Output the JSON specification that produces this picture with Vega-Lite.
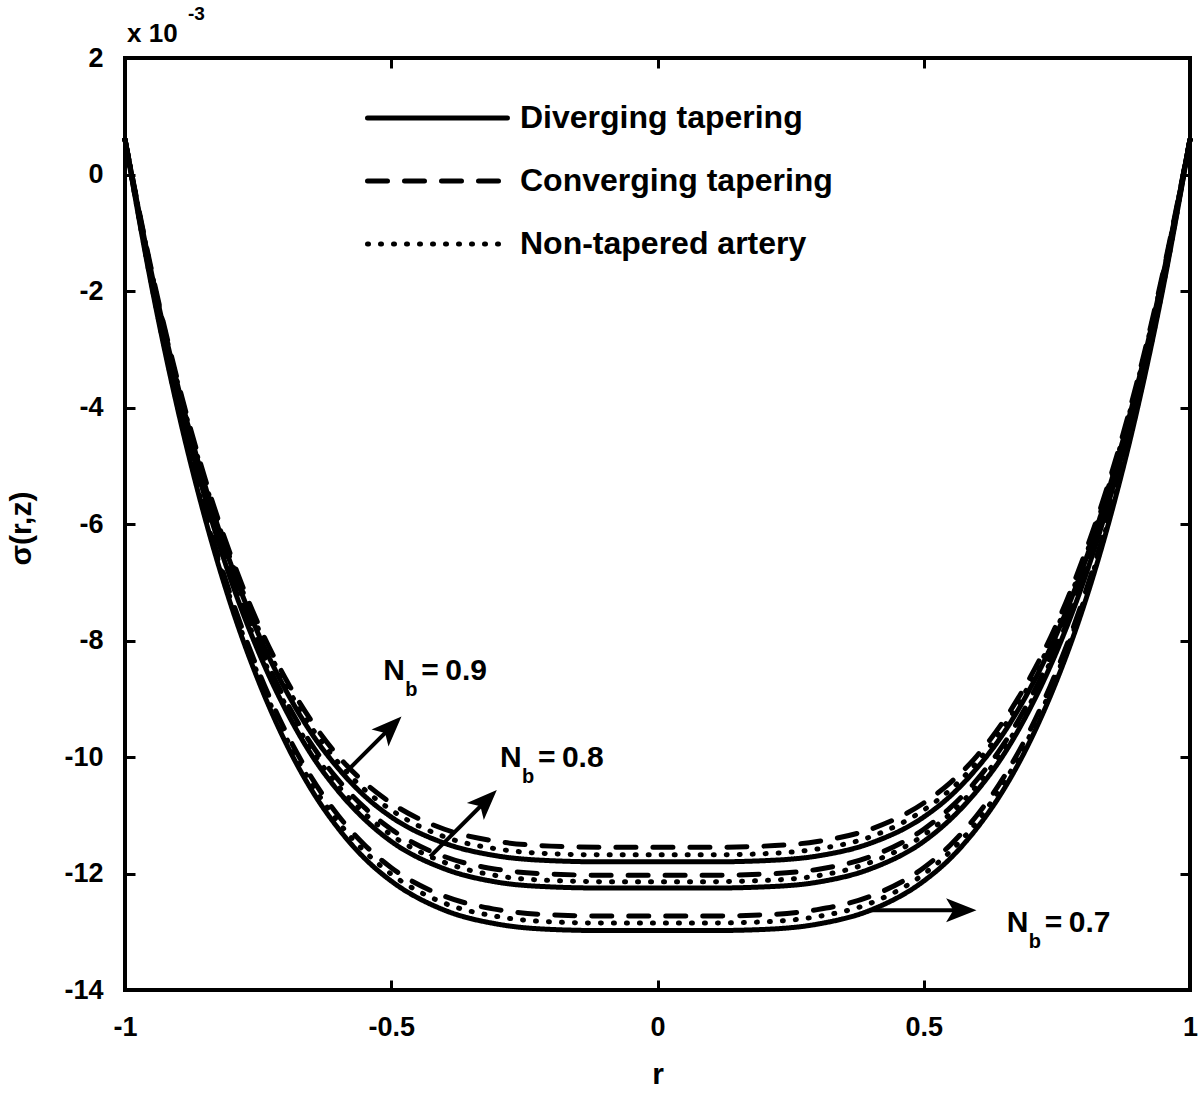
{
  "$schema": "https://vega.github.io/schema/vega-lite/v6.json",
  "autosize": {"type": "none"},
  "padding": {"left": 125, "top": 58, "right": 10, "bottom": 103},
  "width": 1065,
  "height": 932,
  "config": {
    "view": {"stroke": "black", "strokeWidth": 4},
    "font": "Liberation Sans",
    "axis": {
      "grid": false,
      "domain": false,
      "offset": -10,
      "ticks": true,
      "tickColor": "black",
      "tickWidth": 3,
      "tickSize": 10,
      "labelFont": "Liberation Sans",
      "labelFontWeight": "bold",
      "labelFontSize": 27,
      "labelColor": "black",
      "labelFlush": false,
      "labelBound": false,
      "labelOverlap": false,
      "titleFont": "Liberation Sans",
      "titleFontWeight": "bold",
      "titleFontSize": 30,
      "titleColor": "black"
    }
  },
  "layer": [
    {
      "data": {
        "values": [
          {"r": -1, "nb": "0.9", "D": 0.6, "C": 0.6, "N": 0.6},
          {"r": -1, "nb": "0.8", "D": 0.6, "C": 0.6, "N": 0.6},
          {"r": -1, "nb": "0.7", "D": 0.6, "C": 0.6, "N": 0.6},
          {"r": -0.95, "nb": "0.9", "D": -1.70, "C": -1.65, "N": -1.68},
          {"r": -0.95, "nb": "0.8", "D": -1.78, "C": -1.74, "N": -1.76},
          {"r": -0.95, "nb": "0.7", "D": -1.92, "C": -1.87, "N": -1.90},
          {"r": -0.9, "nb": "0.9", "D": -3.66, "C": -3.58, "N": -3.62},
          {"r": -0.9, "nb": "0.8", "D": -3.82, "C": -3.74, "N": -3.78},
          {"r": -0.9, "nb": "0.7", "D": -4.07, "C": -3.98, "N": -4.03},
          {"r": -0.85, "nb": "0.9", "D": -5.33, "C": -5.21, "N": -5.27},
          {"r": -0.85, "nb": "0.8", "D": -5.54, "C": -5.44, "N": -5.49},
          {"r": -0.85, "nb": "0.7", "D": -5.89, "C": -5.77, "N": -5.83},
          {"r": -0.8, "nb": "0.9", "D": -6.72, "C": -6.57, "N": -6.65},
          {"r": -0.8, "nb": "0.8", "D": -6.99, "C": -6.86, "N": -6.92},
          {"r": -0.8, "nb": "0.7", "D": -7.42, "C": -7.27, "N": -7.34},
          {"r": -0.75, "nb": "0.9", "D": -7.88, "C": -7.71, "N": -7.79},
          {"r": -0.75, "nb": "0.8", "D": -8.18, "C": -8.03, "N": -8.11},
          {"r": -0.75, "nb": "0.7", "D": -8.68, "C": -8.51, "N": -8.59},
          {"r": -0.7, "nb": "0.9", "D": -8.82, "C": -8.63, "N": -8.73},
          {"r": -0.7, "nb": "0.8", "D": -9.16, "C": -9.00, "N": -9.08},
          {"r": -0.7, "nb": "0.7", "D": -9.72, "C": -9.53, "N": -9.62},
          {"r": -0.65, "nb": "0.9", "D": -9.59, "C": -9.38, "N": -9.49},
          {"r": -0.65, "nb": "0.8", "D": -9.96, "C": -9.78, "N": -9.87},
          {"r": -0.65, "nb": "0.7", "D": -10.56, "C": -10.35, "N": -10.45},
          {"r": -0.6, "nb": "0.9", "D": -10.19, "C": -9.98, "N": -10.09},
          {"r": -0.6, "nb": "0.8", "D": -10.58, "C": -10.39, "N": -10.49},
          {"r": -0.6, "nb": "0.7", "D": -11.22, "C": -11.00, "N": -11.11},
          {"r": -0.55, "nb": "0.9", "D": -10.67, "C": -10.44, "N": -10.56},
          {"r": -0.55, "nb": "0.8", "D": -11.07, "C": -10.87, "N": -10.97},
          {"r": -0.55, "nb": "0.7", "D": -11.74, "C": -11.51, "N": -11.62},
          {"r": -0.5, "nb": "0.9", "D": -11.03, "C": -10.79, "N": -10.91},
          {"r": -0.5, "nb": "0.8", "D": -11.45, "C": -11.24, "N": -11.34},
          {"r": -0.5, "nb": "0.7", "D": -12.13, "C": -11.90, "N": -12.01},
          {"r": -0.4, "nb": "0.9", "D": -11.48, "C": -11.24, "N": -11.37},
          {"r": -0.4, "nb": "0.8", "D": -11.92, "C": -11.71, "N": -11.81},
          {"r": -0.4, "nb": "0.7", "D": -12.63, "C": -12.39, "N": -12.51},
          {"r": -0.3, "nb": "0.9", "D": -11.70, "C": -11.45, "N": -11.58},
          {"r": -0.3, "nb": "0.8", "D": -12.15, "C": -11.93, "N": -12.04},
          {"r": -0.3, "nb": "0.7", "D": -12.87, "C": -12.62, "N": -12.74},
          {"r": -0.2, "nb": "0.9", "D": -11.78, "C": -11.53, "N": -11.66},
          {"r": -0.2, "nb": "0.8", "D": -12.23, "C": -12.01, "N": -12.12},
          {"r": -0.2, "nb": "0.7", "D": -12.96, "C": -12.71, "N": -12.83},
          {"r": -0.1, "nb": "0.9", "D": -11.80, "C": -11.55, "N": -11.68},
          {"r": -0.1, "nb": "0.8", "D": -12.25, "C": -12.03, "N": -12.14},
          {"r": -0.1, "nb": "0.7", "D": -12.98, "C": -12.73, "N": -12.85},
          {"r": 0, "nb": "0.9", "D": -11.80, "C": -11.55, "N": -11.68},
          {"r": 0, "nb": "0.8", "D": -12.25, "C": -12.03, "N": -12.14},
          {"r": 0, "nb": "0.7", "D": -12.98, "C": -12.73, "N": -12.85},
          {"r": 0.1, "nb": "0.9", "D": -11.80, "C": -11.55, "N": -11.68},
          {"r": 0.1, "nb": "0.8", "D": -12.25, "C": -12.03, "N": -12.14},
          {"r": 0.1, "nb": "0.7", "D": -12.98, "C": -12.73, "N": -12.85},
          {"r": 0.2, "nb": "0.9", "D": -11.78, "C": -11.53, "N": -11.66},
          {"r": 0.2, "nb": "0.8", "D": -12.23, "C": -12.01, "N": -12.12},
          {"r": 0.2, "nb": "0.7", "D": -12.96, "C": -12.71, "N": -12.83},
          {"r": 0.3, "nb": "0.9", "D": -11.70, "C": -11.45, "N": -11.58},
          {"r": 0.3, "nb": "0.8", "D": -12.15, "C": -11.93, "N": -12.04},
          {"r": 0.3, "nb": "0.7", "D": -12.87, "C": -12.62, "N": -12.74},
          {"r": 0.4, "nb": "0.9", "D": -11.48, "C": -11.24, "N": -11.37},
          {"r": 0.4, "nb": "0.8", "D": -11.92, "C": -11.71, "N": -11.81},
          {"r": 0.4, "nb": "0.7", "D": -12.63, "C": -12.39, "N": -12.51},
          {"r": 0.5, "nb": "0.9", "D": -11.03, "C": -10.79, "N": -10.91},
          {"r": 0.5, "nb": "0.8", "D": -11.45, "C": -11.24, "N": -11.34},
          {"r": 0.5, "nb": "0.7", "D": -12.13, "C": -11.90, "N": -12.01},
          {"r": 0.55, "nb": "0.9", "D": -10.67, "C": -10.44, "N": -10.56},
          {"r": 0.55, "nb": "0.8", "D": -11.07, "C": -10.87, "N": -10.97},
          {"r": 0.55, "nb": "0.7", "D": -11.74, "C": -11.51, "N": -11.62},
          {"r": 0.6, "nb": "0.9", "D": -10.19, "C": -9.98, "N": -10.09},
          {"r": 0.6, "nb": "0.8", "D": -10.58, "C": -10.39, "N": -10.49},
          {"r": 0.6, "nb": "0.7", "D": -11.22, "C": -11.00, "N": -11.11},
          {"r": 0.65, "nb": "0.9", "D": -9.59, "C": -9.38, "N": -9.49},
          {"r": 0.65, "nb": "0.8", "D": -9.96, "C": -9.78, "N": -9.87},
          {"r": 0.65, "nb": "0.7", "D": -10.56, "C": -10.35, "N": -10.45},
          {"r": 0.7, "nb": "0.9", "D": -8.82, "C": -8.63, "N": -8.73},
          {"r": 0.7, "nb": "0.8", "D": -9.16, "C": -9.00, "N": -9.08},
          {"r": 0.7, "nb": "0.7", "D": -9.72, "C": -9.53, "N": -9.62},
          {"r": 0.75, "nb": "0.9", "D": -7.88, "C": -7.71, "N": -7.79},
          {"r": 0.75, "nb": "0.8", "D": -8.18, "C": -8.03, "N": -8.11},
          {"r": 0.75, "nb": "0.7", "D": -8.68, "C": -8.51, "N": -8.59},
          {"r": 0.8, "nb": "0.9", "D": -6.72, "C": -6.57, "N": -6.65},
          {"r": 0.8, "nb": "0.8", "D": -6.99, "C": -6.86, "N": -6.92},
          {"r": 0.8, "nb": "0.7", "D": -7.42, "C": -7.27, "N": -7.34},
          {"r": 0.85, "nb": "0.9", "D": -5.33, "C": -5.21, "N": -5.27},
          {"r": 0.85, "nb": "0.8", "D": -5.54, "C": -5.44, "N": -5.49},
          {"r": 0.85, "nb": "0.7", "D": -5.89, "C": -5.77, "N": -5.83},
          {"r": 0.9, "nb": "0.9", "D": -3.66, "C": -3.58, "N": -3.62},
          {"r": 0.9, "nb": "0.8", "D": -3.82, "C": -3.74, "N": -3.78},
          {"r": 0.9, "nb": "0.7", "D": -4.07, "C": -3.98, "N": -4.03},
          {"r": 0.95, "nb": "0.9", "D": -1.70, "C": -1.65, "N": -1.68},
          {"r": 0.95, "nb": "0.8", "D": -1.78, "C": -1.74, "N": -1.76},
          {"r": 0.95, "nb": "0.7", "D": -1.92, "C": -1.87, "N": -1.90},
          {"r": 1, "nb": "0.9", "D": 0.6, "C": 0.6, "N": 0.6},
          {"r": 1, "nb": "0.8", "D": 0.6, "C": 0.6, "N": 0.6},
          {"r": 1, "nb": "0.7", "D": 0.6, "C": 0.6, "N": 0.6}
        ]
      },
      "transform": [{"fold": ["D", "C", "N"], "as": ["taper", "sigma"]}],
      "mark": {
        "type": "line",
        "color": "black",
        "strokeWidth": 5,
        "strokeCap": "round",
        "interpolate": "monotone"
      },
      "encoding": {
        "x": {
          "field": "r",
          "type": "quantitative",
          "scale": {"domain": [-1, 1], "nice": false},
          "axis": {
            "orient": "bottom",
            "tickCount": 4,
            "labelExpr": "datum.value + ''",
            "title": "r",
            "labelPadding": 24,
            "titleY": 103,
            "titleBaseline": "alphabetic"
          }
        },
        "y": {
          "field": "sigma",
          "type": "quantitative",
          "scale": {"domain": [-14, 2], "nice": false, "zero": false},
          "axis": {
            "orient": "left",
            "tickCount": 8,
            "labelExpr": "datum.value + ''",
            "title": "σ(r,z)",
            "labelPadding": 22,
            "titleAngle": -90,
            "titleX": -114,
            "titleY": 470,
            "titleBaseline": "middle"
          }
        },
        "strokeDash": {
          "field": "taper",
          "type": "nominal",
          "scale": {
            "domain": ["D", "C", "N"],
            "range": [[1, 0], [20, 17], [1, 12]]
          },
          "legend": {
            "orient": "none",
            "legendX": 240,
            "legendY": 44,
            "title": null,
            "symbolType": "stroke",
            "symbolSize": 19600,
            "symbolStrokeWidth": 5,
            "symbolStrokeColor": "black",
            "labelFont": "Liberation Sans",
            "labelFontWeight": "bold",
            "labelFontSize": 32,
            "labelColor": "black",
            "labelLimit": 500,
            "labelOffset": 10,
            "clipHeight": 32,
            "rowPadding": 31,
            "labelExpr": "datum.label == 'D' ? 'Diverging tapering' : datum.label == 'C' ? 'Converging tapering' : 'Non-tapered artery'",
            "encode": {"symbols": {"update": {"strokeCap": {"value": "round"}}}}
          }
        },
        "detail": {"field": "nb", "type": "nominal"}
      }
    },
    {
      "data": {"values": [{"r": 0, "sigma": 0}]},
      "mark": {"type": "point", "opacity": 0},
      "encoding": {
        "x": {
          "field": "r",
          "type": "quantitative",
          "axis": {"orient": "top", "tickCount": 4, "labels": false, "title": null}
        },
        "y": {
          "field": "sigma",
          "type": "quantitative",
          "axis": {"orient": "right", "tickCount": 8, "labels": false, "title": null}
        }
      }
    },
    {
      "data": {
        "values": [
          {"nb": "0.9", "r1": -0.584, "v1": -10.25, "r2": -0.502, "v2": -9.50},
          {"nb": "0.8", "r1": -0.427, "v1": -11.71, "r2": -0.323, "v2": -10.76},
          {"nb": "0.7", "r1": 0.40, "v1": -12.63, "r2": 0.569, "v2": -12.63}
        ]
      },
      "layer": [
        {
          "mark": {"type": "rule", "color": "black", "strokeWidth": 4},
          "encoding": {
            "x": {"field": "r1", "type": "quantitative", "axis": null},
            "y": {"field": "v1", "type": "quantitative", "axis": null},
            "x2": {"field": "r2"},
            "y2": {"field": "v2"}
          }
        },
        {
          "transform": [{"filter": "datum.nb != '0.7'"}],
          "mark": {
            "type": "point",
            "shape": "M0,-1L0.75,0.9L0,0.45L-0.75,0.9Z",
            "filled": true,
            "color": "black",
            "opacity": 1,
            "size": 1024,
            "angle": 45
          },
          "encoding": {
            "x": {"field": "r2", "type": "quantitative", "axis": null},
            "y": {"field": "v2", "type": "quantitative", "axis": null}
          }
        },
        {
          "transform": [{"filter": "datum.nb == '0.7'"}],
          "mark": {
            "type": "point",
            "shape": "M0,-1L0.75,0.9L0,0.45L-0.75,0.9Z",
            "filled": true,
            "color": "black",
            "opacity": 1,
            "size": 1024,
            "angle": 90
          },
          "encoding": {
            "x": {"field": "r2", "type": "quantitative", "axis": null},
            "y": {"field": "v2", "type": "quantitative", "axis": null}
          }
        }
      ]
    },
    {
      "data": {
        "values": [
          {"nb": "0.9", "r": -0.515, "v": -8.68},
          {"nb": "0.8", "r": -0.296, "v": -10.17},
          {"nb": "0.7", "r": 0.656, "v": -13.0}
        ]
      },
      "encoding": {
        "x": {"field": "r", "type": "quantitative", "axis": null},
        "y": {"field": "v", "type": "quantitative", "axis": null}
      },
      "layer": [
        {
          "mark": {"type": "text", "text": "N", "align": "left", "baseline": "alphabetic", "fontSize": 30, "fontWeight": "bold", "color": "black"}
        },
        {
          "mark": {"type": "text", "text": "b", "align": "left", "baseline": "alphabetic", "fontSize": 20, "fontWeight": "bold", "color": "black", "dx": 22, "dy": 16}
        },
        {
          "mark": {"type": "text", "text": "=", "align": "left", "baseline": "alphabetic", "fontSize": 30, "fontWeight": "bold", "color": "black", "dx": 38}
        },
        {
          "mark": {"type": "text", "align": "left", "baseline": "alphabetic", "fontSize": 30, "fontWeight": "bold", "color": "black", "dx": 62},
          "encoding": {"text": {"field": "nb"}}
        }
      ]
    },
    {
      "data": {"values": [{}]},
      "encoding": {
        "x": {"datum": -1, "type": "quantitative", "axis": null},
        "y": {"datum": 2, "type": "quantitative", "axis": null}
      },
      "layer": [
        {
          "mark": {"type": "text", "text": "x 10", "align": "left", "baseline": "alphabetic", "fontSize": 26, "fontWeight": "bold", "color": "black", "dx": 2, "dy": -16}
        },
        {
          "mark": {"type": "text", "text": "-3", "align": "left", "baseline": "alphabetic", "fontSize": 19, "fontWeight": "bold", "color": "black", "dx": 63, "dy": -38}
        }
      ]
    }
  ]
}
